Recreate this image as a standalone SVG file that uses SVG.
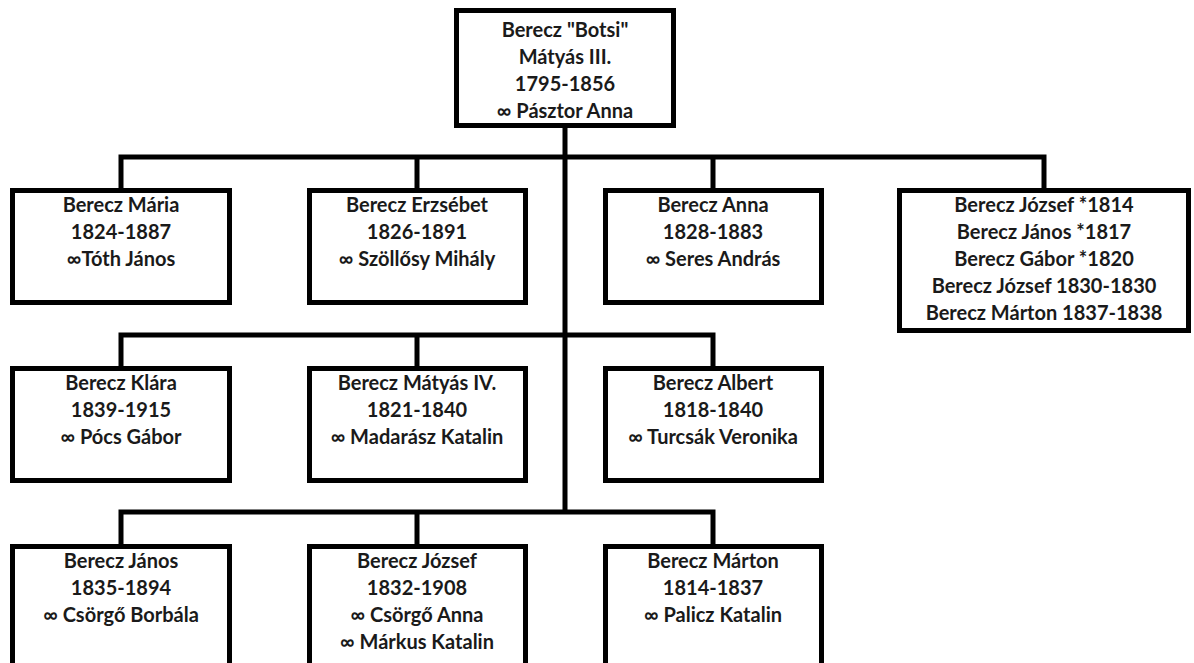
<svg xmlns="http://www.w3.org/2000/svg" width="1194" height="663" viewBox="0 0 1194 663">
<style>
.box{fill:#fff;stroke:#000;stroke-width:5}
.con{fill:none;stroke:#000;stroke-width:5;stroke-linejoin:miter}
text{font-family:Lato,"DejaVu Sans",sans-serif;font-weight:bold;font-size:20px;fill:#1a1a1a;text-anchor:middle}
</style>
<rect x="0" y="0" width="1194" height="663" fill="#fff"/>
<g id="connectors">
<path class="con" d="M565 128V512"/>
<path class="con" d="M121 188V157H1044V188M417 157V188M713 157V188"/>
<path class="con" d="M121 366V335H713V366M417 335V366"/>
<path class="con" d="M121 544V512H713V544M417 512V544"/>
</g>
<g id="n-matyas3">
<rect class="box" x="456.5" y="10.5" width="217" height="115"/>
<text x="565" y="37">Berecz "Botsi"</text>
<text x="565" y="64">Mátyás III.</text>
<text x="565" y="91">1795-1856</text>
<text x="565" y="118">∞ Pásztor Anna</text>
</g>
<g id="n-maria">
<rect class="box" x="12.5" y="190.5" width="217" height="112"/>
<text x="121" y="212">Berecz Mária</text>
<text x="121" y="239">1824-1887</text>
<text x="121" y="266">∞Tóth János</text>
</g>
<g id="n-erzsebet">
<rect class="box" x="309.5" y="190.5" width="216" height="112"/>
<text x="417" y="212">Berecz Erzsébet</text>
<text x="417" y="239">1826-1891</text>
<text x="417" y="266">∞ Szöllősy Mihály</text>
</g>
<g id="n-anna">
<rect class="box" x="605.5" y="190.5" width="216" height="112"/>
<text x="713" y="212">Berecz Anna</text>
<text x="713" y="239">1828-1883</text>
<text x="713" y="266">∞ Seres András</text>
</g>
<g id="n-group">
<rect class="box" x="899.5" y="190.5" width="289" height="140"/>
<text x="1044" y="212">Berecz József *1814</text>
<text x="1044" y="239">Berecz János *1817</text>
<text x="1044" y="266">Berecz Gábor *1820</text>
<text x="1044" y="293">Berecz József 1830-1830</text>
<text x="1044" y="320">Berecz Márton 1837-1838</text>
</g>
<g id="n-klara">
<rect class="box" x="12.5" y="368.5" width="217" height="112"/>
<text x="121" y="390">Berecz Klára</text>
<text x="121" y="417">1839-1915</text>
<text x="121" y="444">∞ Pócs Gábor</text>
</g>
<g id="n-matyas4">
<rect class="box" x="309.5" y="368.5" width="216" height="112"/>
<text x="417" y="390">Berecz Mátyás IV.</text>
<text x="417" y="417">1821-1840</text>
<text x="417" y="444">∞ Madarász Katalin</text>
</g>
<g id="n-albert">
<rect class="box" x="605.5" y="368.5" width="216" height="112"/>
<text x="713" y="390">Berecz Albert</text>
<text x="713" y="417">1818-1840</text>
<text x="713" y="444">∞ Turcsák Veronika</text>
</g>
<g id="n-janos">
<rect class="box" x="12.5" y="546.5" width="217" height="130"/>
<text x="121" y="568">Berecz János</text>
<text x="121" y="595">1835-1894</text>
<text x="121" y="622">∞ Csörgő Borbála</text>
</g>
<g id="n-jozsef">
<rect class="box" x="309.5" y="546.5" width="216" height="130"/>
<text x="417" y="568">Berecz József</text>
<text x="417" y="595">1832-1908</text>
<text x="417" y="622">∞ Csörgő Anna</text>
<text x="417" y="649">∞ Márkus Katalin</text>
</g>
<g id="n-marton">
<rect class="box" x="605.5" y="546.5" width="216" height="130"/>
<text x="713" y="568">Berecz Márton</text>
<text x="713" y="595">1814-1837</text>
<text x="713" y="622">∞ Palicz Katalin</text>
</g>
</svg>
